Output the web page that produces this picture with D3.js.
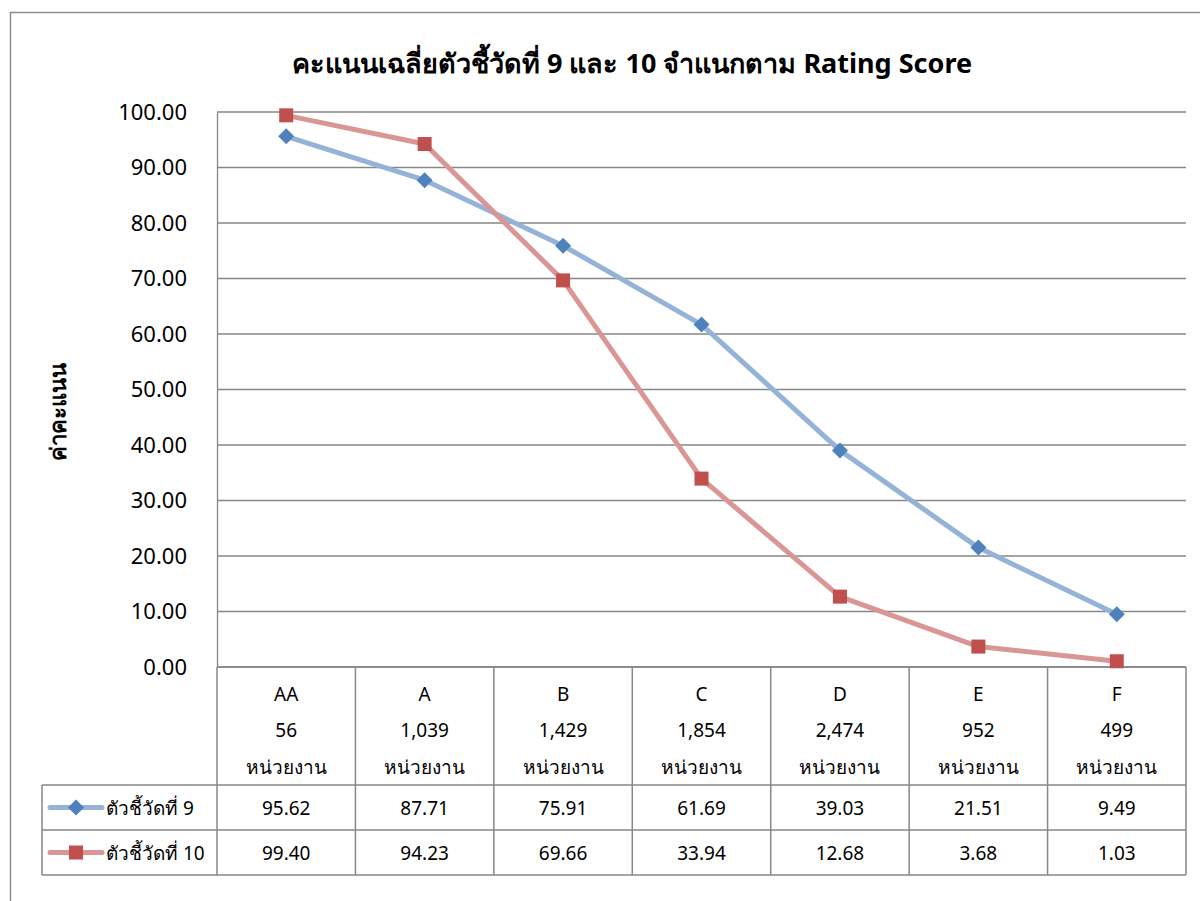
<!DOCTYPE html>
<html>
<head>
<meta charset="utf-8">
<script src="https://cdn.jsdelivr.net/npm/d3@7"></script>
<style>
  body { margin: 0; background: #fff; }
  svg { display: block; font-family: "Noto Sans", "DejaVu Sans", sans-serif; }
</style>
</head>
<body>
<svg id="chart" width="1200" height="901"></svg>
<script>
'use strict';

const grades = ['AA', 'A', 'B', 'C', 'D', 'E', 'F'];
const unitCounts = ['56', '1,039', '1,429', '1,854', '2,474', '952', '499'];
const indicator9 = [95.62, 87.71, 75.91, 61.69, 39.03, 21.51, 9.49];
const indicator10 = [99.40, 94.23, 69.66, 33.94, 12.68, 3.68, 1.03];
const yTicks = [0, 10, 20, 30, 40, 50, 60, 70, 80, 90, 100];

const series = [
    { name: 'ตัวชี้วัดที่ 9', values: indicator9, line: '#95b3d7', mark: '#4f81bd', shape: 'diamond' },
    { name: 'ตัวชี้วัดที่ 10', values: indicator10, line: '#d99694', mark: '#c0504d', shape: 'square' }
];

const svg = d3.select('#chart');
const plotLeft = 217, plotRight = 1186, plotTop = 112, plotBottom = 667;
const rowTop = [667, 785, 830, 875];
const legendLeft = 42;
const gridColor = '#878787';

const x = d3.scaleBand().domain(grades).range([plotLeft, plotRight]);
const y = d3.scaleLinear().domain([0, 100]).range([plotBottom, plotTop]);

// outer border
svg.append('path')
    .attr('d', 'M10.5,901 V12.5 H1200')
    .attr('fill', 'none').attr('stroke', '#8c8c8c').attr('stroke-width', 1.5);

// title
svg.append('text')
    .attr('x', 632).attr('y', 73)
    .attr('text-anchor', 'middle')
    .attr('font-size', 27).attr('font-weight', 'bold')
    .text('คะแนนเฉลี่ยตัวชี้วัดที่ 9 และ 10 จำแนกตาม Rating Score');

// gridlines
svg.append('g').selectAll('line').data(yTicks).join('line')
    .attr('x1', plotLeft).attr('x2', plotRight)
    .attr('y1', d => y(d)).attr('y2', d => y(d))
    .attr('stroke', gridColor).attr('stroke-width', 1.3);

// y axis
const yAxis = svg.append('g')
    .attr('transform', `translate(${plotLeft},0)`)
    .call(d3.axisLeft(y).tickValues(yTicks).tickFormat(d3.format('.2f')).tickSize(0).tickPadding(30));
yAxis.attr('font-family', null).attr('font-size', null);
yAxis.select('.domain').attr('stroke', gridColor).attr('stroke-width', 1.3);
yAxis.selectAll('text').attr('font-size', 22).attr('fill', '#000');

svg.append('text')
    .attr('transform', 'translate(66,412) rotate(-90)')
    .attr('text-anchor', 'middle')
    .attr('font-size', 22).attr('font-weight', 'bold')
    .text('ค่าคะแนน');

// data table
const table = svg.append('g');
const boundaries = grades.map(g => x(g)).concat([plotRight]);
table.selectAll('line.v').data(boundaries).join('line')
    .attr('class', 'v')
    .attr('x1', d => d).attr('x2', d => d)
    .attr('y1', plotBottom).attr('y2', rowTop[3])
    .attr('stroke', gridColor).attr('stroke-width', 1.5);
table.selectAll('line.h').data(rowTop).join('line')
    .attr('class', 'h')
    .attr('x1', (d, i) => i < 1 ? plotLeft : legendLeft).attr('x2', plotRight)
    .attr('y1', d => d).attr('y2', d => d)
    .attr('stroke', gridColor).attr('stroke-width', 1.5);
table.append('line')
    .attr('x1', legendLeft).attr('x2', legendLeft)
    .attr('y1', rowTop[1]).attr('y2', rowTop[3])
    .attr('stroke', gridColor).attr('stroke-width', 1.5);

const header = table.selectAll('g.head').data(grades).join('g')
    .attr('transform', d => `translate(${x(d) + x.bandwidth() / 2},0)`)
    .attr('font-size', 19).attr('text-anchor', 'middle');
header.append('text').attr('y', 701).text(d => d);
header.append('text').attr('y', 737).text((d, i) => unitCounts[i]);
header.append('text').attr('y', 774).text('หน่วยงาน');

series.forEach((s, si) => {
    const cy = (rowTop[si + 1] + rowTop[si + 2]) / 2;
    table.selectAll(null).data(s.values).join('text')
        .attr('x', (d, i) => x(grades[i]) + x.bandwidth() / 2)
        .attr('y', cy + 7)
        .attr('text-anchor', 'middle').attr('font-size', 19)
        .text(d => d3.format('.2f')(d));
    // legend key
    table.append('line')
        .attr('x1', 50).attr('x2', 102).attr('y1', cy).attr('y2', cy)
        .attr('stroke', s.line).attr('stroke-width', 5).attr('stroke-linecap', 'round');
    drawMarker(table, 76, cy, s);
    table.append('text')
        .attr('x', 106).attr('y', cy + 7)
        .attr('font-size', 19)
        .text(s.name);
});

function drawMarker(g, cx, cy, s) {
    if (s.shape === 'diamond') {
        g.append('path')
            .attr('d', `M${cx},${cy - 8} L${cx + 8},${cy} L${cx},${cy + 8} L${cx - 8},${cy} Z`)
            .attr('fill', s.mark);
    } else {
        g.append('rect')
            .attr('x', cx - 7).attr('y', cy - 7).attr('width', 14).attr('height', 14)
            .attr('fill', s.mark);
    }
}

// lines
const line = d3.line()
    .x((d, i) => x(grades[i]) + x.bandwidth() / 2)
    .y(d => y(d));

series.forEach(s => {
    svg.append('path')
        .datum(s.values)
        .attr('d', line)
        .attr('fill', 'none').attr('stroke', s.line).attr('stroke-width', 5)
        .attr('stroke-linejoin', 'round');
});
series.forEach(s => {
    s.values.forEach((v, i) => drawMarker(svg, x(grades[i]) + x.bandwidth() / 2, y(v), s));
});
</script>
</body>
</html>
